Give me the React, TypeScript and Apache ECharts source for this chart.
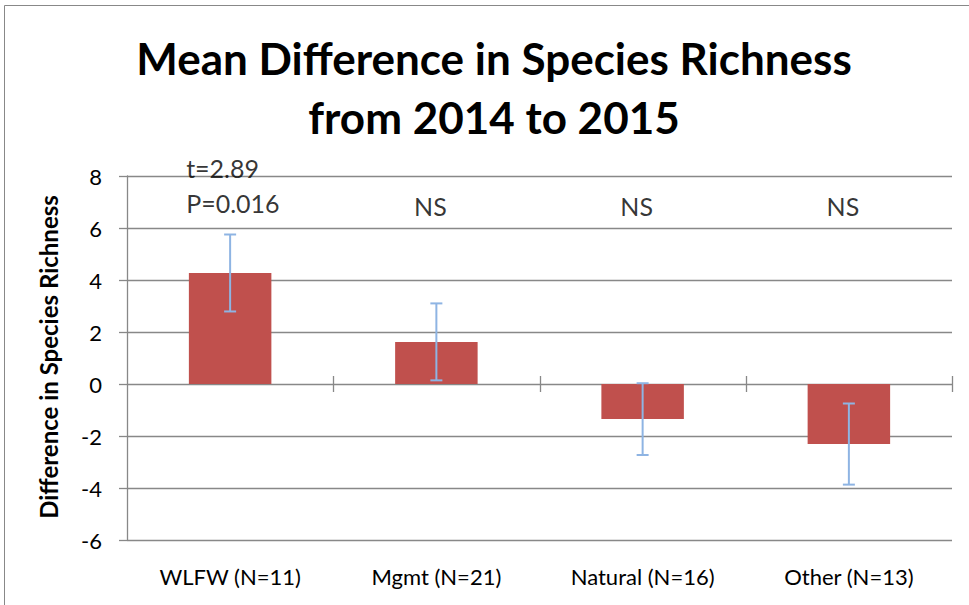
import React, { useEffect, useRef } from "react";
import * as echarts from "echarts";

const categories = ["WLFW (N=11)", "Mgmt (N=21)", "Natural (N=16)", "Other (N=13)"];
const means = [4.27, 1.62, -1.35, -2.31];
const errors = [1.48, 1.48, 1.38, 1.56];
const annotations = ["t=2.89\nP=0.016", "NS", "NS", "NS"];
const annotationY = [7.63, 6.85, 6.85, 6.85];
const titleLines = ["Mean Difference in Species Richness", "from 2014 to 2015"];
const yAxisName = "Difference in Species Richness";

const FONT = "Lato";
const GRAY = "#888888";

export default function App() {
  const ref = useRef<HTMLDivElement>(null);
  useEffect(() => {
    const chart = echarts.init(ref.current!, null, { renderer: "svg" });
    const errData = means.map((m, i) => [i, m - errors[i], m + errors[i]]);
    const annData = annotationY.map((v, i) => ({
      value: [i, v],
      label:
        i === 0
          ? { align: "left", offset: [-44, 0] }
          : { align: "center", offset: [-6, 0] },
    }));
    chart.setOption({
      animation: false,
      backgroundColor: "#ffffff",
      textStyle: { fontFamily: FONT },
      grid: { left: 127, right: 17, top: 176, bottom: 65, containLabel: false },
      graphic: [
        {
          type: "rect",
          shape: { x: 4.5, y: 5.5, width: 1200, height: 800 },
          style: { fill: "none", stroke: GRAY, lineWidth: 1 },
          silent: true,
        },
        {
          type: "text",
          x: 494,
          y: 58,
          style: {
            text: titleLines[0],
            font: `bold 44px ${FONT}`,
            fill: "#000",
            align: "center",
            verticalAlign: "middle",
          },
        },
        {
          type: "text",
          x: 494,
          y: 117,
          style: {
            text: titleLines[1],
            font: `bold 44px ${FONT}`,
            fill: "#000",
            align: "center",
            verticalAlign: "middle",
          },
        },
        {
          type: "text",
          x: 48,
          y: 357,
          rotation: Math.PI / 2,
          style: {
            text: yAxisName,
            font: `bold 24px ${FONT}`,
            fill: "#000",
            align: "center",
            verticalAlign: "middle",
          },
        },
      ],
      xAxis: {
        type: "category",
        data: categories,
        position: "bottom",
        axisLine: { show: false, onZero: false },
        axisTick: { show: false },
        axisLabel: { fontSize: 22, color: "#000", fontFamily: FONT, margin: 25 },
        splitLine: { show: false },
      },
      yAxis: {
        type: "value",
        min: -6,
        max: 8,
        interval: 2,
        axisLine: { show: true, lineStyle: { color: GRAY, width: 1.3 } },
        axisTick: { show: true, length: 8, lineStyle: { color: GRAY, width: 1.3 } },
        axisLabel: { fontSize: 22, color: "#000", fontFamily: FONT, margin: 25 },
        splitLine: { show: true, lineStyle: { color: GRAY, width: 1.3 } },
      },
      series: [
        {
          type: "bar",
          data: means,
          barWidth: "40%",
          itemStyle: { color: "#C0504D" },
          z: 2,
        },
        {
          type: "custom",
          data: errData,
          z: 3,
          renderItem: (params: any, api: any) => {
            const c = api.coord([api.value(0), 0]);
            const x = c[0];
            const zeroY = c[1];
            const band = api.size([1, 0])[0];
            const lo = api.coord([api.value(0), api.value(1)])[1];
            const hi = api.coord([api.value(0), api.value(2)])[1];
            const cap = 6;
            const style = { stroke: "#8EB4E3", lineWidth: 2 };
            const tickX = Math.round(x + band / 2) + 0.5;
            return {
              type: "group",
              children: [
                {
                  type: "line",
                  shape: { x1: tickX, y1: zeroY - 8, x2: tickX, y2: zeroY + 8 },
                  style: { stroke: GRAY, lineWidth: 1.3 },
                  z2: 1,
                },
                { type: "line", shape: { x1: x, y1: lo, x2: x, y2: hi }, style, z2: 2 },
                { type: "line", shape: { x1: x - cap, y1: hi, x2: x + cap, y2: hi }, style, z2: 2 },
                { type: "line", shape: { x1: x - cap, y1: lo, x2: x + cap, y2: lo }, style, z2: 2 },
              ],
            };
          },
        },
        {
          type: "scatter",
          symbolSize: 0,
          data: annData,
          label: {
            show: true,
            position: "inside",
            formatter: (p: any) => annotations[p.dataIndex],
            color: "#000",
            fontSize: 25,
            fontFamily: FONT,
            lineHeight: 35,
          },
          z: 4,
        },
      ],
    });
    return () => chart.dispose();
  }, []);
  return (
    <div
      ref={ref}
      style={{ position: "absolute", left: 0, top: 0, width: 969, height: 605 }}
    />
  );
}
